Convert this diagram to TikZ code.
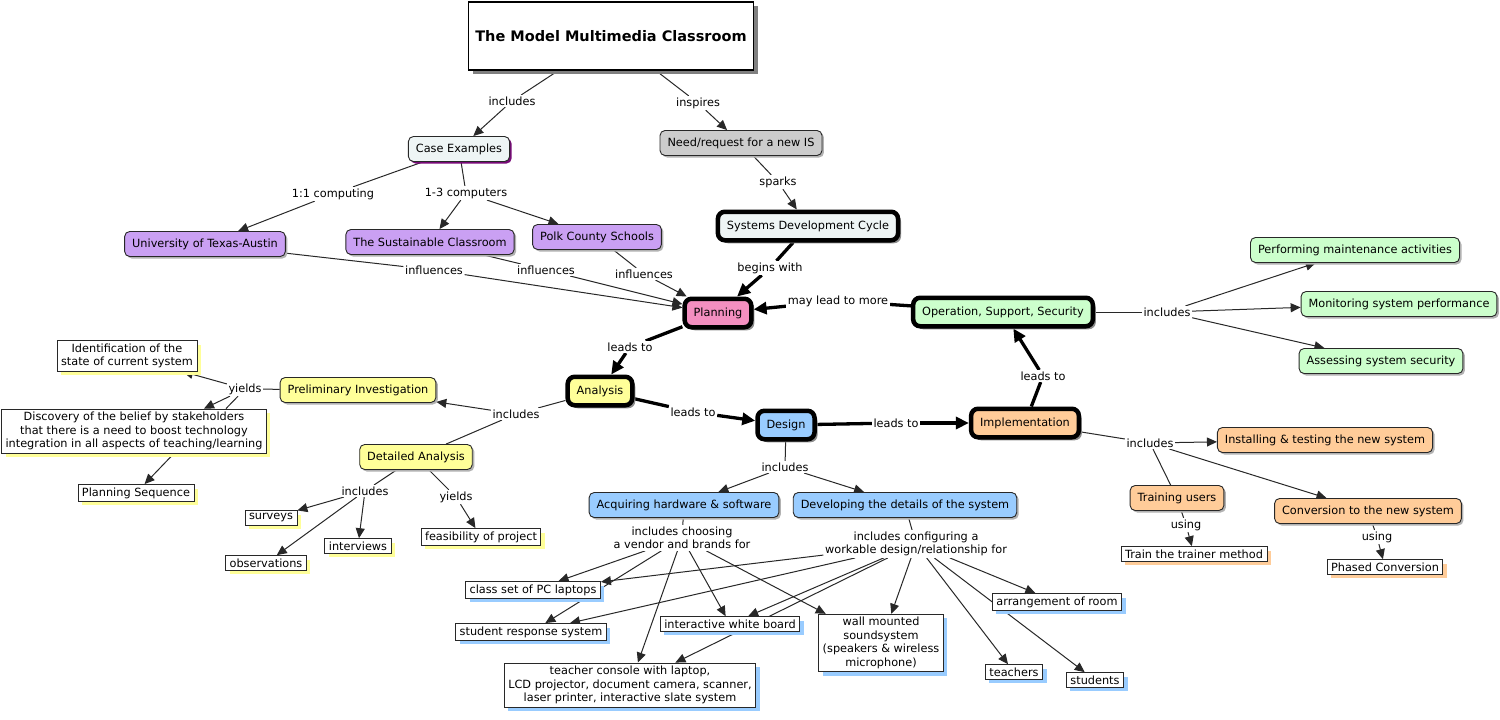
\documentclass[tikz,border=0pt]{standalone}
\usepackage{fontspec}
\setmainfont{DejaVu Sans}
\usetikzlibrary{arrows.meta,shadows,backgrounds}

\definecolor{casefill}{RGB}{238,245,245}
\definecolor{caseshadow}{RGB}{120,10,120}
\definecolor{needfill}{RGB}{204,204,204}
\definecolor{schoolfill}{RGB}{202,160,243}
\definecolor{planfill}{RGB}{243,143,192}
\definecolor{anafill}{RGB}{255,255,153}
\definecolor{desfill}{RGB}{153,204,255}
\definecolor{impfill}{RGB}{255,204,153}
\definecolor{opsfill}{RGB}{204,255,204}
\definecolor{edgecol}{RGB}{40,40,40}

\begin{document}
\begin{tikzpicture}[
    x=1pt, y=-1pt,
    every node/.style={font=\fontsize{11.3}{13.5}\selectfont, align=center},
    concept/.style={
        draw=edgecol, line width=0.9pt,
        rounded corners=5pt,
        inner xsep=7.5pt, inner ysep=2pt,
        minimum height=25pt,
        drop shadow={shadow xshift=2pt, shadow yshift=-2pt, fill=#1, opacity=1}
    },
    concept/.default=black!30,
    stage/.style={
        draw=black, line width=4.5pt,
        rounded corners=7pt,
        inner xsep=9pt, inner ysep=2pt,
        minimum height=28.5pt,
        drop shadow={shadow xshift=3pt, shadow yshift=-3pt, fill=black!45, opacity=1}
    },
    fact/.style={
        draw=edgecol, line width=0.9pt, fill=white,
        inner xsep=4pt, inner ysep=3pt,
        drop shadow={shadow xshift=4pt, shadow yshift=-4pt, fill=#1, opacity=1}
    },
    fact/.default=anafill,
    phrase/.style={fill=white, inner sep=1.5pt},
    link/.style={draw=edgecol, line width=1pt},
    linkto/.style={link, -{Triangle[length=10pt, width=9pt]}},
    mainlink/.style={draw=black, line width=3.3pt},
    mainto/.style={mainlink, -{Triangle[length=13pt, width=12pt]}}
]
\useasboundingbox (0,0) rectangle (1500,720);

\node[draw=black, line width=1.2pt, fill=white,
      minimum width=285pt, minimum height=68pt,
      font=\fontsize{14.5}{17}\selectfont\bfseries,
      drop shadow={shadow xshift=4pt, shadow yshift=-4pt, fill=black!50, opacity=1}]
      (title) at (611,36) {The Model Multimedia Classroom};

\node[concept=caseshadow, fill=casefill] (case) at (459,149) {Case Examples};
\node[concept, fill=needfill] (need) at (741,143) {Need/request for a new IS};
\node[stage, fill=casefill] (sdc) at (808,226) {Systems Development Cycle};
\node[concept, fill=schoolfill] (ut) at (205,244) {University of Texas-Austin};
\node[concept, fill=schoolfill] (sust) at (430,242) {The Sustainable Classroom};
\node[concept, fill=schoolfill] (polk) at (597,237) {Polk County Schools};
\node[stage, fill=planfill] (planning) at (718,313) {Planning};
\node[stage, fill=opsfill] (ops) at (1003,312) {Operation, Support, Security};
\node[concept, fill=opsfill] (perf) at (1355,250) {Performing maintenance activities};
\node[concept, fill=opsfill] (mon) at (1399,304) {Monitoring system performance};
\node[concept, fill=opsfill] (assess) at (1381,361) {Assessing system security};

\node[stage, fill=anafill] (analysis) at (600,391) {Analysis};
\node[concept, fill=anafill] (prelim) at (358,390) {Preliminary Investigation};
\node[fact] (ident) at (127,356) {Identification of the\\state of current system};
\node[fact] (discovery) at (134,431) {Discovery of the belief by stakeholders\\that there is a need to boost technology\\integration in all aspects of teaching/learning};
\node[fact] (planseq) at (136,493) {Planning Sequence};
\node[concept, fill=anafill] (detailed) at (416,457) {Detailed Analysis};
\node[fact] (surveys) at (271,518) {surveys};
\node[fact] (interviews) at (358,546) {interviews};
\node[fact] (observations) at (266,563) {observations};
\node[fact] (feasibility) at (481,537) {feasibility of project};

\node[stage, fill=desfill] (design) at (786,425) {Design};
\node[stage, fill=impfill] (impl) at (1025,423) {Implementation};
\node[concept, fill=impfill] (install) at (1325,440) {Installing \& testing the new system};
\node[concept, fill=impfill] (training) at (1177,498) {Training users};
\node[concept, fill=impfill] (conversion) at (1368,511) {Conversion to the new system};
\node[fact=impfill] (trainer) at (1194,554) {Train the trainer method};
\node[fact=impfill] (phased) at (1385,567) {Phased Conversion};

\node[concept, fill=desfill] (acquiring) at (684,505) {Acquiring hardware \& software};
\node[concept, fill=desfill] (developing) at (905,505) {Developing the details of the system};
\node[fact=desfill] (laptops) at (533,590) {class set of PC laptops};
\node[fact=desfill] (response) at (531,632) {student response system};
\node[fact=desfill] (board) at (730,624) {interactive white board};
\node[fact=desfill] (sound) at (881,643) {wall mounted\\soundsystem\\(speakers \& wireless\\microphone)};
\node[fact=desfill] (console) at (630,685) {teacher console with laptop,\\LCD projector, document camera, scanner,\\laser printer, interactive slate system};
\node[fact=desfill] (room) at (1057,602) {arrangement of room};
\node[fact=desfill] (teachers) at (1014,672) {teachers};
\node[fact=desfill] (students) at (1095,680) {students};

\node[phrase] (inc1) at (512,101) {includes};
\node[phrase] (insp) at (698,103) {inspires};
\node[phrase] (comp1) at (333,194) {1:1 computing};
\node[phrase] (comp3) at (466,193) {1-3 computers};
\node[phrase] (spark) at (778,182) {sparks};
\node[phrase] (begin) at (770,268) {begins with};
\node[phrase] (infl1) at (434,270) {influences};
\node[phrase] (infl2) at (546,270) {influences};
\node[phrase] (infl3) at (644,274) {influences};
\node[phrase] (maylead) at (838,301) {may lead to more};
\node[phrase] (inc2) at (1167,312) {includes};
\node[phrase] (lead1) at (630,347) {leads to};
\node[phrase] (inc3) at (516,414) {includes};
\node[phrase] (yld1) at (245,389) {yields};
\node[phrase] (inc4) at (365,491) {includes};
\node[phrase] (yld2) at (456,497) {yields};
\node[phrase] (lead2) at (693,412) {leads to};
\node[phrase] (lead3) at (896,423) {leads to};
\node[phrase] (lead4) at (1043,376) {leads to};
\node[phrase] (inc5) at (785,467) {includes};
\node[phrase] (inc6) at (1150,443) {includes};
\node[phrase] (use1) at (1186,525) {using};
\node[phrase] (use2) at (1377,537) {using};
\node[phrase] (choose) at (682,538) {includes choosing\\a vendor and brands for};
\node[phrase] (config) at (916,544) {includes configuring a\\workable design/relationship for};

\begin{scope}[on background layer]
\fill[white] (0,0) rectangle (1500,720);
\draw[link] (title) -- (inc1);
\draw[linkto] (inc1) -- (case);
\draw[link] (title) -- (insp);
\draw[linkto] (insp) -- (need);
\draw[link] (case) -- (comp1);
\draw[linkto] (comp1) -- (ut);
\draw[link] (case) -- (comp3);
\draw[linkto] (comp3) -- (sust);
\draw[linkto] (comp3) -- (polk);
\draw[link] (need) -- (spark);
\draw[linkto] (spark) -- (sdc);
\draw[mainlink] (sdc) -- (begin);
\draw[mainto] (begin) -- (planning);
\draw[link] (ut) -- (infl1);
\draw[linkto] (infl1) -- (planning);
\draw[link] (sust) -- (infl2);
\draw[linkto] (infl2) -- (planning);
\draw[link] (polk) -- (infl3);
\draw[linkto] (infl3) -- (planning);
\draw[mainlink] (ops) -- (maylead);
\draw[mainto] (maylead) -- (planning);
\draw[link] (ops) -- (inc2);
\foreach \t in {perf,mon,assess}
    \draw[linkto] (inc2) -- (\t);
\draw[mainlink] (planning) -- (lead1);
\draw[mainto] (lead1) -- (analysis);
\draw[link] (analysis) -- (inc3);
\draw[linkto] (inc3) -- (prelim);
\draw[link] (inc3) -- (detailed);
\draw[link] (prelim) -- (yld1);
\draw[linkto] (yld1) -- (ident);
\draw[linkto] (yld1) -- ([xshift=70pt]discovery.north);
\draw[link] (yld1) -- ([xshift=92pt]discovery.north);
\draw[linkto] ([xshift=40pt]discovery.south) -- (planseq);
\draw[link] (detailed) -- (inc4);
\foreach \t in {surveys,interviews,observations}
    \draw[linkto] (inc4) -- (\t);
\draw[link] (detailed) -- (yld2);
\draw[linkto] (yld2) -- (feasibility);
\draw[mainlink] (analysis) -- (lead2);
\draw[mainto] (lead2) -- (design);
\draw[mainlink] (design) -- (lead3);
\draw[mainto] (lead3) -- (impl);
\draw[mainlink] (impl) -- (lead4);
\draw[mainto] (lead4) -- (ops);
\draw[link] (design) -- (inc5);
\draw[linkto] (inc5) -- (acquiring);
\draw[linkto] (inc5) -- (developing);
\draw[link] (impl) -- (inc6);
\draw[linkto] (inc6) -- (install);
\draw[linkto] (inc6) -- (conversion);
\draw[link] (inc6) -- (training);
\draw[link] (training) -- (use1);
\draw[linkto] (use1) -- (trainer);
\draw[link] (conversion) -- (use2);
\draw[linkto] (use2) -- (phased);
\draw[link] (acquiring) -- (choose);
\draw[link] (developing) -- (config);
\foreach \t in {laptops,response,board,console,sound}
    \draw[linkto] (choose) -- (\t);
\foreach \t in {laptops,response,board,console,sound,teachers,room,students}
    \draw[linkto] (config) -- (\t);
\end{scope}
\end{tikzpicture}
\end{document}
